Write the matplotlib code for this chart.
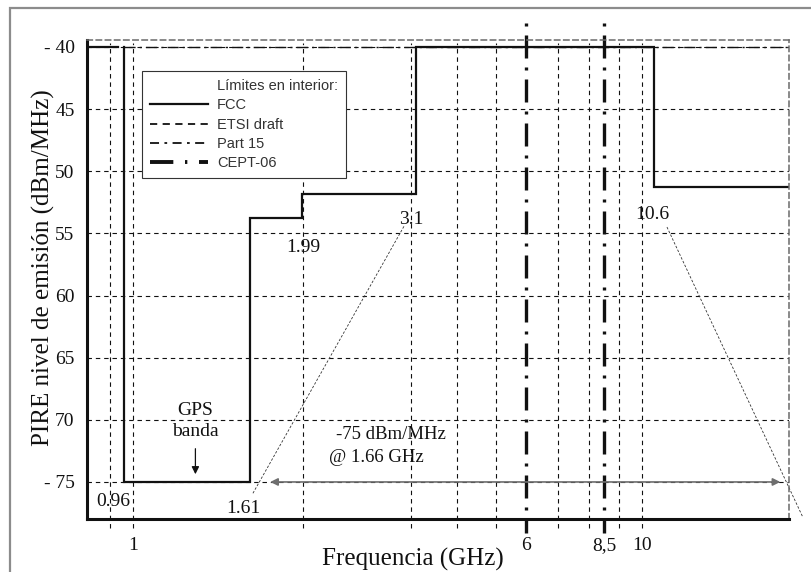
import numpy as np
import matplotlib
matplotlib.use("Agg")
import matplotlib.pyplot as plt
from matplotlib.lines import Line2D
from matplotlib.patches import Rectangle

# mask values (GHz, dBm/MHz)
fcc_freq = [0.96, 0.96, 1.61, 1.61, 1.99, 1.99, 3.1, 3.1, 10.6, 10.6, 20.0]
fcc_level = [-40, -75, -75, -53.8, -53.8, -51.85, -51.85, -40, -40, -51.3, -51.3]
fcc_low_freq = [0.81, 0.933]
fcc_low_level = [-40, -40]
part15_freq = [0.96, 20.0]
part15_level = [-40, -40]
cept_freq = [6.0, 8.5]
grid_freq = [0.9, 1, 2, 3, 4, 5, 7, 8, 9, 10]
y_ticks = [-75, -70, -65, -60, -55, -50, -45, -40]
y_ticklabels = ["- 75", "70", "65", "60", "55", "50", "45", "- 40"]
x_ticks = [1, 6, 8.5, 10]
x_ticklabels = ["1", "6", "8,5", "10"]
edge_labels = ["0.96", "1.61", "1.99", "3.1", "10.6"]
edge_label_freq = [0.915, 1.566, 2.0, 3.0, 10.48]
edge_label_level = [-76.6, -77.1, -56.1, -53.9, -53.5]

# the hand-drawn frequency axis is only roughly logarithmic: anchor freq -> drawn position
axis_freq = [0.5, 0.9, 1, 2, 3, 4, 5, 6, 7, 8, 9, 10, 20, 40]
axis_pos = [-18, 110, 133, 303, 411, 457, 496, 526, 558, 589, 619, 642, 789, 936]
LOGF = np.log10(axis_freq)


def fwd(f):
    f = np.clip(np.asarray(f, dtype=float), 1e-3, None)
    return np.interp(np.log10(f), LOGF, axis_pos)


def inv(p):
    return 10 ** np.interp(p, axis_pos, LOGF)


SERIF = ["Liberation Serif", "DejaVu Serif"]
SANS = ["Liberation Sans", "DejaVu Sans"]
plt.rcParams["font.family"] = SERIF
INK = "#111111"

W, H = 811, 572
fig = plt.figure(figsize=(W / 100, H / 100), dpi=100)
ax = fig.add_axes([87 / W, 1 - 519 / H, (789 - 87) / W, (519 - 40) / H])
ax.set_xscale("function", functions=(fwd, inv))
ax.set_xlim(0.81, 20.0)
ax.set_ylim(-77.98, -39.44)

# grid
grid_kw = dict(color=INK, lw=0.8, ls=(0, (4, 3.5)))
ax.vlines(grid_freq, -0.019, 0.993, transform=ax.get_xaxis_transform(), clip_on=False, **grid_kw)
ax.hlines(y_ticks, 0, 1, transform=ax.get_yaxis_transform(), **grid_kw)

# spines
for s in ("left", "bottom"):
    ax.spines[s].set_linewidth(2.2)
    ax.spines[s].set_color(INK)
for s in ("top", "right"):
    ax.spines[s].set_linewidth(1.1)
    ax.spines[s].set_linestyle((0, (3.5, 2.5)))
    ax.spines[s].set_color("#6a6a6a")

# masks
fcc_line, = ax.plot(fcc_freq, fcc_level, color=INK, lw=1.6, solid_joinstyle="miter")
ax.plot(fcc_low_freq, fcc_low_level, color=INK, lw=1.6)
p15_line, = ax.plot(part15_freq, part15_level, color=INK, lw=1.0, ls=(0, (8, 3, 1.5, 3)))
cept_style = dict(color=INK, lw=2.4, ls=(0, (0.9, 2.7, 6.9, 2.7)), dash_capstyle="butt")
for f in cept_freq:
    # drawn from the top down so the pattern starts with a dot, as in the original
    cept_line, = ax.plot([f, f], [1.035, -0.029], transform=ax.get_xaxis_transform(),
                         clip_on=False, **cept_style)

# pointer lines for edge labels
ptr_kw = dict(color="#333333", lw=0.6, ls=(0, (3, 2)))
ax.plot([1.631, 2.93], [-75.91, -54.33], **ptr_kw)
ax.plot([11.25, 21.35], [-54.49, -77.84], clip_on=False, **ptr_kw)

for lab, f, lv in zip(edge_labels, edge_label_freq, edge_label_level):
    ax.text(f, lv, lab, ha="center", va="center", fontsize=14, color=INK)

# GPS band note
ax.text(1.29, -70.1, "GPS\nbanda", ha="center", va="center", fontsize=14, color=INK,
        linespacing=1.3)
ax.annotate("", xy=(1.29, -74.6), xytext=(1.29, -72.1),
            arrowprops=dict(arrowstyle="-|>", color=INK, lw=0.9, mutation_scale=11))

# -75 dBm/MHz span
ax.annotate("", xy=(1.75, -75), xytext=(19.2, -75),
            arrowprops=dict(arrowstyle="<|-|>", color="#6e6e6e", lw=1.2, mutation_scale=11,
                            shrinkA=0, shrinkB=0))
ax.text(2.78, -71.2, "-75 dBm/MHz", ha="center", va="center", fontsize=13.5, color=INK)
ax.text(2.63, -73.0, "@ 1.66 GHz", ha="center", va="center", fontsize=13.5, color=INK)

# ticks
ax.set_xticks(x_ticks, x_ticklabels)
ax.set_yticks(y_ticks, y_ticklabels)
ax.xaxis.set_minor_locator(matplotlib.ticker.NullLocator())
ax.tick_params(axis="both", length=0, labelsize=14, colors=INK)
ax.tick_params(axis="x", pad=13)
ax.tick_params(axis="y", pad=9)

ax.set_xlabel("Frequencia (GHz)", fontsize=18, color=INK)
ax.xaxis.set_label_coords(0.464, -0.060)
ax.set_ylabel("PIRE nivel de emisión (dBm/MHz)", fontsize=18, color=INK)
ax.yaxis.set_label_coords(-0.046, 0.524)

# legend
title_h = Line2D([], [], color="none")
etsi_h = Line2D([], [], color=INK, lw=1.3, ls=(0, (4, 3)))
p15_h = Line2D([], [], color=INK, lw=1.3, ls=(0, (5, 3, 1.5, 3)))
cept_h = Line2D([], [], color=INK, lw=2.8, ls=(0, (6, 3, 0.6, 3)), dash_capstyle="butt")
leg = ax.legend([title_h, fcc_line, etsi_h, p15_h, cept_h],
                ["Límites en interior:", "FCC", "ETSI draft", "Part 15", "CEPT-06"],
                loc="upper left", bbox_to_anchor=(0.078, 0.935), frameon=True, fancybox=False,
                framealpha=1, edgecolor="#333333", prop={"family": SANS, "size": 10.5},
                handlelength=4.0, handletextpad=0.6, labelspacing=0.36, borderpad=0.55,
                borderaxespad=0)
leg.get_frame().set_linewidth(0.8)
for t in leg.get_texts():
    t.set_color("#333333")

# outer frame of the original figure
fig.patches.append(Rectangle((10 / W, -0.05), 1.1, 1 - 8 / H + 0.05, transform=fig.transFigure,
                             fill=False, edgecolor="#8c8c8c", lw=1.6))

fig.savefig("out.png", dpi=100)
